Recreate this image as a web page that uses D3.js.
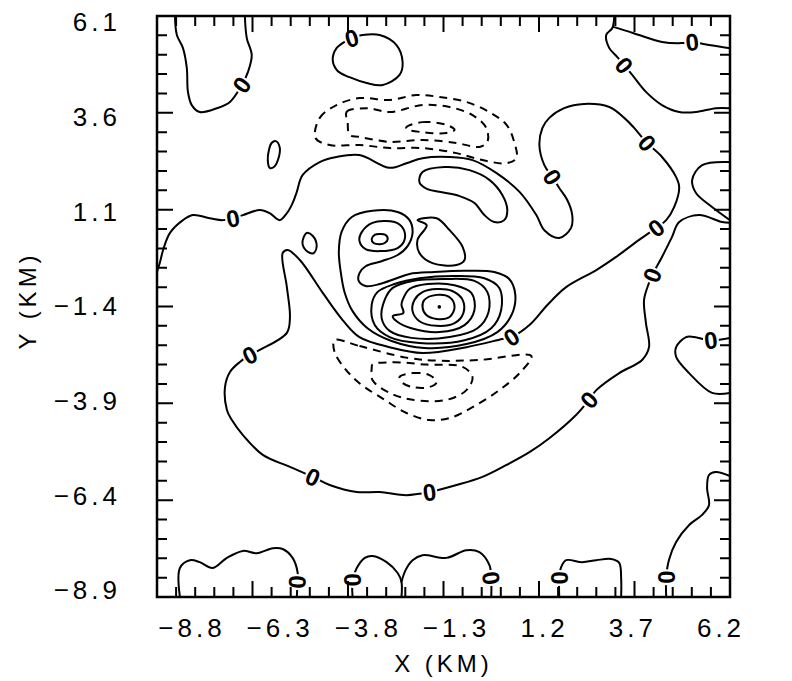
<!DOCTYPE html>
<html>
<head>
<meta charset="utf-8">
<script src="https://cdn.jsdelivr.net/npm/d3@7"></script>
<style>
  body { margin: 0; background: #fff; }
  text { font-family: "Liberation Sans", "DejaVu Sans", sans-serif; fill: #000; }
</style>
</head>
<body>
<svg id="chart" width="792" height="681"></svg>
<script>
// Axis tick values (km)
const xTickValues = [-8.8, -6.3, -3.8, -1.3, 1.2, 3.7, 6.2];
const yTickValues = [-8.9, -6.4, -3.9, -1.4, 1.1, 3.6, 6.1];

// ---- Zero contours (solid, labelled "0"), points are [x km, y km] ----
const zTopLeftLobe = [[-8.33,6.1],[-8.28,5.61],[-8.12,5.27],[-8.02,4.76],[-7.99,4.14],[-7.89,3.8],[-7.68,3.62],[-7.23,3.72],[-6.89,3.88],[-6.58,4.32],[-6.42,4.65],[-6.32,5.09],[-6.45,5.53],[-6.5,6.1]];
const zTopRightA = [[3.17,6.1],[3.12,5.79],[2.96,5.61],[3.04,5.27],[3.25,5.04],[3.43,4.83],[3.64,4.58],[4.00,4.14],[4.42,3.80],[4.87,3.62],[5.31,3.62],[5.83,3.72],[6.2,3.72]];
const zTopRightB = [[3.14,5.82],[3.51,5.71],[3.82,5.61],[4.42,5.43],[4.94,5.40],[5.21,5.43],[5.65,5.35],[6.2,5.27]];
const zMain = [[-8.80,-0.51],[-8.72,-0.25],[-8.64,0.06],[-8.46,0.50],[-8.12,0.83],[-7.86,0.96],[-7.42,0.88],[-7.08,0.83],[-6.81,0.88],[-6.55,0.96],[-6.11,1.09],[-5.85,1.01],[-5.59,0.83],[-5.40,1.01],[-5.25,1.27],[-5.14,1.56],[-4.99,1.99],[-4.54,2.33],[-4.10,2.46],[-3.50,2.51],[-2.71,2.18],[-2.27,2.30],[-1.85,2.43],[-1.14,2.46],[-0.54,2.38],[0.08,2.05],[0.69,1.56],[1.13,0.96],[1.34,0.57],[1.73,0.37],[2.04,0.63],[2.07,0.96],[1.94,1.35],[1.73,1.66],[1.55,1.94],[1.34,2.25],[1.21,2.77],[1.29,3.21],[1.47,3.47],[1.86,3.72],[2.38,3.83],[3.04,3.75],[3.43,3.47],[3.69,3.21],[4.03,2.82],[4.42,2.46],[4.79,1.94],[4.87,1.68],[4.74,1.17],[4.53,0.83],[4.27,0.63],[3.82,0.32],[3.22,-0.12],[2.70,-0.46],[1.91,-0.90],[1.42,-1.36],[0.95,-1.88],[0.48,-2.19],[0.24,-2.24],[-0.70,-2.45],[-1.85,-2.60],[-2.71,-2.45],[-3.50,-2.19],[-3.94,-1.75],[-4.46,-1.05],[-5.06,-0.20],[-5.38,0.06],[-5.51,-0.02],[-5.40,-0.90],[-5.32,-1.67],[-5.40,-2.08],[-6.11,-2.52],[-6.37,-2.65],[-6.63,-2.83],[-6.89,-3.09],[-7.02,-3.48],[-6.97,-4.07],[-6.84,-4.33],[-6.55,-4.72],[-6.03,-5.23],[-5.32,-5.54],[-4.72,-5.80],[-4.28,-6.01],[-3.57,-6.19],[-2.97,-6.19],[-2.27,-6.27],[-1.67,-6.19],[-0.96,-6.01],[-0.28,-5.80],[0.35,-5.49],[0.95,-5.16],[1.47,-4.80],[2.17,-4.20],[2.51,-3.81],[2.70,-3.56],[3.30,-3.12],[3.90,-2.78],[4.08,-2.45],[4.00,-1.83],[3.95,-1.23],[4.08,-0.79],[4.16,-0.59],[4.42,-0.12],[4.68,0.39],[4.87,0.78],[5.39,0.96],[5.99,0.78],[6.2,0.76]];
const zRightLobeUpper = [[6.2,2.33],[5.47,2.25],[5.21,1.87],[5.31,1.53],[5.73,1.17],[6.2,0.83]];
const zRightLobeLower = [[6.2,-2.21],[5.70,-2.27],[5.26,-2.19],[5.05,-2.19],[4.79,-2.45],[4.79,-2.70],[5.13,-3.12],[5.73,-3.63],[6.2,-3.63]];
const zBottomLeft = [[-8.20,-8.9],[-8.20,-8.15],[-7.94,-7.95],[-7.68,-8.00],[-7.34,-8.15],[-6.97,-7.89],[-6.55,-7.71],[-6.19,-7.77],[-5.77,-7.64],[-5.51,-7.66],[-5.25,-7.89],[-5.12,-8.26],[-5.12,-8.46],[-5.14,-8.9]];
const zBottomMidA = [[-3.68,-8.9],[-3.68,-8.46],[-3.57,-8.15],[-3.36,-7.89],[-3.16,-7.84],[-2.79,-8.00],[-2.50,-8.28],[-2.40,-8.51],[-2.40,-8.9]];
const zBottomMidB = [[-2.40,-8.51],[-2.29,-8.20],[-2.11,-7.95],[-1.85,-7.82],[-1.22,-7.89],[-0.70,-7.69],[-0.36,-7.74],[-0.10,-8.07],[-0.05,-8.41],[-0.05,-8.9]];
const zBottomRightA = [[1.73,-8.9],[1.73,-8.41],[1.78,-8.13],[1.91,-7.95],[2.33,-8.00],[2.70,-7.95],[3.09,-7.92],[3.30,-8.02],[3.35,-8.41],[3.35,-8.9]];
const zBottomRightB = [[4.53,-8.9],[4.53,-8.39],[4.60,-7.95],[4.79,-7.48],[5.13,-7.04],[5.47,-6.78],[5.65,-6.53],[5.60,-6.09],[5.65,-5.75],[5.83,-5.67],[6.2,-5.78]];
const zTopLoop = [[-3.70,5.53],[-3.42,5.61],[-2.97,5.61],[-2.53,5.35],[-2.37,4.91],[-2.45,4.58],[-2.89,4.32],[-3.31,4.37],[-3.76,4.52],[-4.07,4.68],[-4.20,4.96],[-4.10,5.27],[-3.86,5.45]];

const zeroOpen = [zTopLeftLobe, zTopRightA, zTopRightB, zMain, zRightLobeUpper, zRightLobeLower,
                  zBottomLeft, zBottomMidA, zBottomMidB, zBottomRightA, zBottomRightB];
const zeroClosed = [zTopLoop];

// Positions of the "0" labels on the zero contours
const zeroLabels = [[-6.58,4.32],[-3.70,5.53],[3.43,4.83],[5.21,5.43],[-6.81,0.88],[1.55,1.94],[4.03,2.82],
                    [4.27,0.63],[0.48,-2.19],[-6.37,-2.65],[-4.72,-5.80],[-1.67,-6.19],[2.51,-3.81],[4.16,-0.59],
                    [5.70,-2.27],[-5.14,-8.51],[-3.68,-8.46],[-0.05,-8.41],[1.73,-8.41],[4.53,-8.39]];

// ---- Positive contours (solid, closed) ----
const pCrescent = [[-1.85,2.07],[-1.27,2.20],[-0.62,2.12],[-0.10,1.87],[0.24,1.48],[0.37,1.09],[0.29,0.83],[0.03,0.78],[-0.23,0.96],[-0.49,1.27],[-0.88,1.45],[-1.41,1.56],[-1.72,1.63],[-1.93,1.81]];
const pSmallNW = [[-5.69,2.87],[-5.59,2.72],[-5.61,2.46],[-5.74,2.20],[-5.85,2.18],[-5.90,2.38],[-5.87,2.64],[-5.80,2.82]];
const pSmallW = [[-4.88,0.50],[-4.72,0.42],[-4.62,0.16],[-4.70,-0.02],[-4.85,0.01],[-4.99,0.21],[-4.96,0.39]];
const pBlob = [[-1.98,0.83],[-1.48,0.88],[-1.14,0.57],[-0.80,0.14],[-0.75,-0.20],[-0.96,-0.33],[-1.59,-0.28],[-1.93,-0.02],[-1.98,0.32],[-1.74,0.70]];
// secondary maximum
const pSecInner = [[-3.18,0.34],[-3.10,0.45],[-2.97,0.47],[-2.82,0.45],[-2.76,0.34],[-2.84,0.24],[-2.97,0.21],[-3.13,0.24]];
const pSecMid = [[-3.44,0.52],[-3.16,0.76],[-2.58,0.78],[-2.35,0.60],[-2.32,0.32],[-2.50,0.11],[-2.97,0.03],[-3.34,0.08],[-3.50,0.29]];
// contour enclosing both maxima, pinched between them
const pWaist = [[-3.50,-0.54],[-3.34,-0.36],[-2.92,-0.23],[-2.50,-0.07],[-2.24,0.16],[-2.11,0.50],[-2.19,0.83],[-2.50,1.04],[-3.16,1.07],[-3.70,0.91],[-3.97,0.52],[-4.04,0.01],[-3.99,-0.51],[-3.89,-1.03],[-3.68,-1.52],[-3.29,-1.96],[-2.66,-2.29],[-1.80,-2.47],[-0.70,-2.37],[0.11,-2.06],[0.48,-1.62],[0.58,-1.10],[0.42,-0.69],[0.03,-0.51],[-0.75,-0.48],[-1.54,-0.51],[-2.19,-0.56],[-2.58,-0.69],[-2.97,-0.82],[-3.34,-0.87],[-3.52,-0.74]];
// main maximum rings, innermost first
const pRing1 = [[-1.80,-1.23],[-1.48,-1.10],[-1.14,-1.16],[-1.01,-1.41],[-1.14,-1.67],[-1.48,-1.72],[-1.75,-1.62],[-1.85,-1.41]];
const pRing2 = [[-2.06,-1.23],[-1.85,-1.03],[-1.48,-0.95],[-1.07,-1.00],[-0.80,-1.23],[-0.78,-1.57],[-1.01,-1.83],[-1.48,-1.90],[-1.93,-1.78],[-2.11,-1.52]];
const pRing3 = [[-2.37,-1.23],[-2.19,-0.95],[-1.72,-0.82],[-1.01,-0.85],[-0.57,-1.05],[-0.49,-1.49],[-0.75,-1.88],[-1.41,-2.06],[-2.14,-1.96],[-2.50,-1.80],[-2.63,-1.65],[-2.35,-1.57],[-2.40,-1.36]];
const pRing4 = [[-2.84,-1.23],[-2.63,-0.92],[-2.11,-0.74],[-1.27,-0.69],[-0.49,-0.74],[-0.15,-1.03],[-0.12,-1.54],[-0.41,-1.96],[-1.14,-2.19],[-2.14,-2.21],[-2.71,-2.03],[-2.92,-1.70]];
const pRing5 = [[-3.18,-1.36],[-3.03,-1.03],[-2.58,-0.82],[-1.93,-0.67],[-1.01,-0.61],[-0.23,-0.67],[0.16,-0.92],[0.21,-1.49],[-0.05,-1.96],[-0.75,-2.27],[-1.93,-2.34],[-2.71,-2.19],[-3.10,-1.88]];
const positiveClosed = [pCrescent, pSmallNW, pSmallW, pBlob, pSecInner, pSecMid, pWaist,
                        pRing1, pRing2, pRing3, pRing4, pRing5];
const peakMarks = [[-1.41,-1.41]];

// ---- Negative contours (dashed, closed) ----
const nNorthOuter = [[-4.65,2.95],[-4.54,3.47],[-4.10,3.80],[-3.50,3.98],[-2.71,3.93],[-2.01,4.06],[-1.41,4.01],[-0.70,3.88],[-0.10,3.62],[0.35,3.29],[0.55,2.85],[0.61,2.43],[0.35,2.30],[-0.28,2.38],[-0.96,2.56],[-1.85,2.69],[-2.71,2.69],[-3.50,2.77],[-4.28,2.77]];
const nNorthMid = [[-3.81,3.36],[-3.84,3.62],[-3.31,3.72],[-2.71,3.62],[-1.85,3.80],[-1.14,3.75],[-0.54,3.54],[-0.18,3.21],[-0.15,2.85],[-0.36,2.72],[-0.96,2.82],[-1.85,2.90],[-2.71,2.85],[-3.50,2.98],[-3.76,3.03]];
const nNorthInner = [[-2.27,3.23],[-1.85,3.36],[-1.22,3.29],[-1.01,3.16],[-1.22,3.08],[-1.85,3.10],[-2.27,3.18]];
const nSouthOuter = [[-4.15,-2.27],[-3.50,-2.42],[-2.27,-2.72],[-1.41,-2.80],[-0.36,-2.78],[1.00,-2.68],[0.69,-3.12],[0.16,-3.56],[-0.54,-4.00],[-1.14,-4.28],[-1.67,-4.33],[-2.27,-4.15],[-2.84,-3.81],[-3.50,-3.38],[-3.89,-2.99],[-4.15,-2.58]];
const nSouthMid = [[-3.16,-2.90],[-2.63,-2.84],[-1.74,-2.90],[-0.80,-2.96],[-0.54,-3.22],[-0.70,-3.56],[-1.22,-3.81],[-2.11,-3.81],[-2.71,-3.63],[-3.16,-3.30],[-3.18,-3.00]];
const nSouthInner = [[-2.45,-3.22],[-2.11,-3.12],[-1.67,-3.17],[-1.48,-3.35],[-1.67,-3.48],[-2.11,-3.48],[-2.40,-3.35]];
const negativeClosed = [nNorthOuter, nNorthMid, nNorthInner, nSouthOuter, nSouthMid, nSouthInner];

// ---- Layout ----
const width = 792, height = 681;
const margin = { top: 16, right: 62, bottom: 84, left: 157 };
const x = d3.scaleLinear().domain([-8.8, 6.2]).range([margin.left, width - margin.right]);
const y = d3.scaleLinear().domain([-8.9, 6.1]).range([height - margin.bottom, margin.top]);

const svg = d3.select("#chart");
svg.append("rect").attr("width", width).attr("height", height).attr("fill", "#fff");

svg.append("defs").append("clipPath").attr("id", "plot-clip")
  .append("rect")
  .attr("x", x(-8.8)).attr("y", y(6.1))
  .attr("width", x(6.2) - x(-8.8)).attr("height", y(-8.9) - y(6.1));

const plot = svg.append("g").attr("clip-path", "url(#plot-clip)");

const openLine = d3.line().x(d => x(d[0])).y(d => y(d[1])).curve(d3.curveCatmullRom.alpha(0.5));
const closedLine = d3.line().x(d => x(d[0])).y(d => y(d[1])).curve(d3.curveCatmullRomClosed.alpha(0.5));

function drawContours(list, gen, dashed) {
  plot.append("g").selectAll("path").data(list).join("path")
    .attr("d", gen)
    .attr("fill", "none")
    .attr("stroke", "#000")
    .attr("stroke-width", 2)
    .attr("stroke-linejoin", "round")
    .attr("stroke-linecap", dashed ? "butt" : "round")
    .attr("stroke-dasharray", dashed ? "8,6" : null);
}
drawContours(zeroOpen, openLine, false);
drawContours(zeroClosed, closedLine, false);
drawContours(positiveClosed, closedLine, false);
drawContours(negativeClosed, closedLine, true);

plot.append("g").selectAll("circle").data(peakMarks).join("circle")
  .attr("cx", d => x(d[0])).attr("cy", d => y(d[1])).attr("r", 1.8).attr("fill", "#000");

// Orientation of each "0" label follows the local direction of its contour
const zeroAll = zeroOpen.concat(zeroClosed.map(c => c.concat([c[0]])));
function localAngle(p) {
  const px = x(p[0]), py = y(p[1]);
  let best = Infinity, ang = 0;
  zeroAll.forEach(c => {
    for (let i = 0; i < c.length - 1; i++) {
      const ax = x(c[i][0]), ay = y(c[i][1]), bx = x(c[i + 1][0]), by = y(c[i + 1][1]);
      const dx = bx - ax, dy = by - ay, L = dx * dx + dy * dy || 1;
      let t = ((px - ax) * dx + (py - ay) * dy) / L;
      t = Math.max(0, Math.min(1, t));
      const qx = ax + t * dx - px, qy = ay + t * dy - py, dist = qx * qx + qy * qy;
      if (dist < best) { best = dist; ang = Math.atan2(dy, dx) * 180 / Math.PI; }
    }
  });
  if (ang > 90) ang -= 180;
  if (ang <= -90) ang += 180;
  return ang;
}

const labels = svg.append("g").selectAll("g").data(zeroLabels).join("g")
  .attr("transform", d => `translate(${x(d[0])},${y(d[1])}) rotate(${localAngle(d)})`);
labels.append("ellipse").attr("rx", 8).attr("ry", 11).attr("fill", "#fff");
labels.append("text")
  .attr("text-anchor", "middle").attr("dy", "0.36em")
  .attr("font-size", 24).attr("font-weight", "bold")
  .text("0");

// ---- Inward ticks every 0.5 km (longer at the labelled values) ----
// Each side is traced as one comb-shaped stroke that runs along the frame
// and steps in and back out at every tick position.
const xMinor = d3.range(0, 31).map(i => -8.8 + i * 0.5);
const yMinor = d3.range(0, 31).map(i => -8.9 + i * 0.5);
const isMajorX = v => xTickValues.some(t => Math.abs(t - v) < 1e-6);
const isMajorY = v => yTickValues.some(t => Math.abs(t - v) < 1e-6);
const minorLen = 10, majorLen = 16;
const bottomY = y(-8.9), topY = y(6.1), leftX = x(-8.8), rightX = x(6.2);

function comb(values, pos, base, inward, isMajor, horizontal) {
  const pts = [];
  values.forEach(v => {
    const p = pos(v), len = isMajor(v) ? majorLen : minorLen;
    if (horizontal) {
      pts.push([p, base], [p, base + inward * len], [p, base]);
    } else {
      pts.push([base, p], [base + inward * len, p], [base, p]);
    }
  });
  return pts;
}
const combs = [
  comb(xMinor, x, bottomY, -1, isMajorX, true),
  comb(xMinor, x, topY, 1, isMajorX, true),
  comb(yMinor, y, leftX, 1, isMajorY, false),
  comb(yMinor, y, rightX, -1, isMajorY, false)
];
svg.append("g").selectAll("path").data(combs).join("path")
  .attr("d", d3.line())
  .attr("fill", "none")
  .attr("stroke", "#000")
  .attr("stroke-width", 2)
  .attr("stroke-linejoin", "bevel");

// ---- Frame ----
svg.append("rect")
  .attr("x", leftX).attr("y", topY)
  .attr("width", rightX - leftX).attr("height", bottomY - topY)
  .attr("fill", "none").attr("stroke", "#000").attr("stroke-width", 2.5);

// ---- Tick labels and axis titles ----
const fmt = d3.format(".1f");
const xLabelPos = d3.scalePoint().domain(xTickValues).range([x(-8.8) + 35, x(6.2) - 9]);
const yLabelPos = d3.scalePoint().domain(yTickValues).range([y(-8.9) - 7, y(6.1) + 6]);

svg.append("g").selectAll("text").data(xTickValues).join("text")
  .attr("x", d => xLabelPos(d)).attr("y", bottomY + 31)
  .attr("text-anchor", "middle").attr("dy", "0.36em")
  .attr("font-size", 26).attr("letter-spacing", 4)
  .text(d => fmt(d));

svg.append("g").selectAll("text").data(yTickValues).join("text")
  .attr("x", leftX - 36).attr("y", d => yLabelPos(d))
  .attr("text-anchor", "end").attr("dy", "0.36em")
  .attr("font-size", 26).attr("letter-spacing", 4)
  .text(d => fmt(d));

svg.append("text")
  .attr("x", (leftX + rightX) / 2).attr("y", bottomY + 66)
  .attr("text-anchor", "middle").attr("dy", "0.36em")
  .attr("font-size", 24).attr("letter-spacing", 4)
  .text("X (KM)");

svg.append("text")
  .attr("transform", `translate(27,${(topY + bottomY) / 2 - 6}) rotate(-90)`)
  .attr("text-anchor", "middle").attr("dy", "0.36em")
  .attr("font-size", 24).attr("letter-spacing", 4)
  .text("Y (KM)");
</script>
</body>
</html>
